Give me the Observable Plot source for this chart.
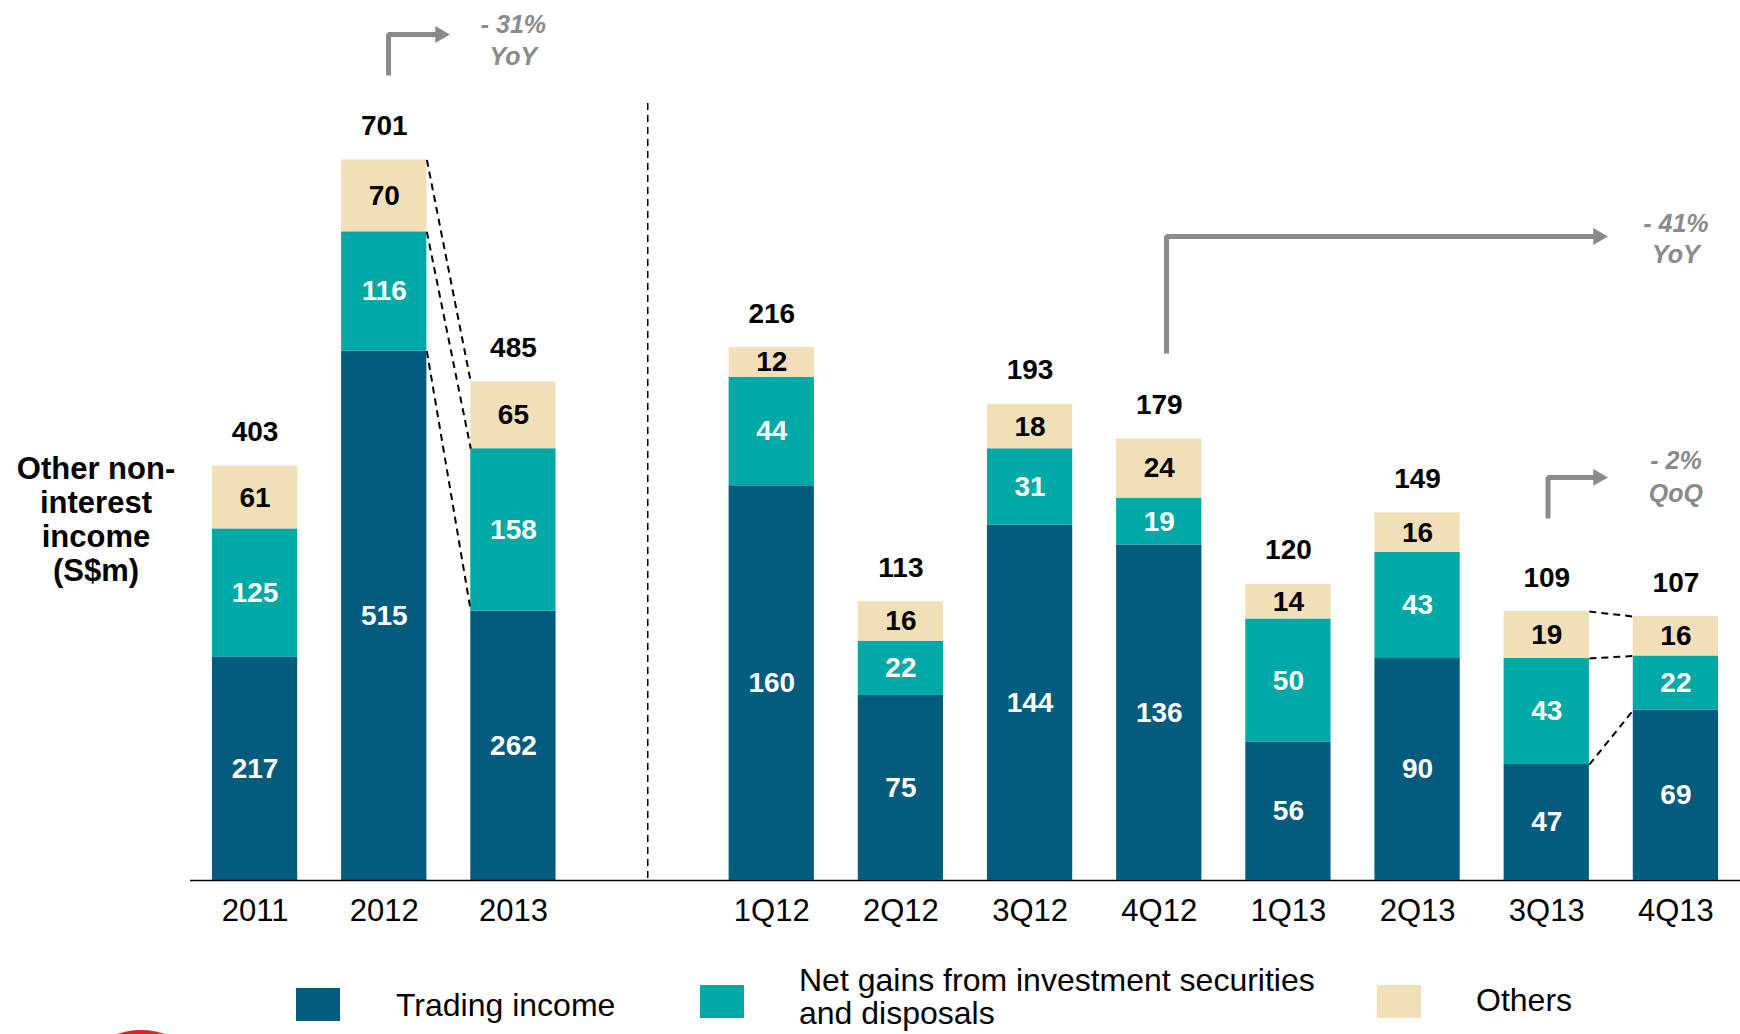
<!DOCTYPE html>
<html><head><meta charset="utf-8">
<script src="https://cdn.jsdelivr.net/npm/d3@7"></script>
<script src="https://cdn.jsdelivr.net/npm/@observablehq/plot@0.6"></script>
<style>
html,body{margin:0;padding:0;background:#fff;}
body{width:1740px;height:1034px;position:relative;overflow:hidden;font-family:"Liberation Sans",Arial,sans-serif;color:#000;}
#chart{position:absolute;left:0;top:0;width:1740px;height:945px;}
#chart svg{position:absolute;left:0;top:0;}
.ylab{position:absolute;left:0;width:192px;top:452px;text-align:center;font-weight:bold;font-size:31px;line-height:34px;}
.sw{position:absolute;width:44px;height:33px;}
.lt{position:absolute;font-size:32px;line-height:33px;}
.logo{position:absolute;left:66px;top:1030px;width:150px;height:150px;border-radius:50%;background:#E2231A;}
</style></head><body>
<div id="chart"></div>
<div class="ylab">Other non-<br>interest<br>income<br>(S$m)</div>
<div id="legend"></div>
<div class="logo"></div>
<script>
// ---- data ----
const annualLabels = ["2011", "2012", "2013"];
const annualTrading = [217, 515, 262];
const annualNetGains = [125, 116, 158];
const annualOthers = [61, 70, 65];
const annualTotals = [403, 701, 485];

const quarterLabels = ["1Q12", "2Q12", "3Q12", "4Q12", "1Q13", "2Q13", "3Q13", "4Q13"];
const quarterTrading = [160, 75, 144, 136, 56, 90, 47, 69];
const quarterNetGains = [44, 22, 31, 19, 50, 43, 43, 22];
const quarterOthers = [12, 16, 18, 24, 14, 16, 19, 16];
const quarterTotals = [216, 113, 193, 179, 120, 149, 109, 107];

const seriesNames = ["Trading income", "Net gains from investment securities and disposals", "Others"];
const seriesColors = ["#035B7E", "#00A9A5", "#F0DFB7"];

// annotation texts
const annualChange = ["- 31%", "YoY"];
const yoyChange = ["- 41%", "YoY"];
const qoqChange = ["- 2%", "QoQ"];

// ---- layout ----
const W = 1740, H = 945, MB = 65, ML = 190;
const HW = 0.33;            // half bar width in slot units
const quarterOffset = 4;    // slot of first quarter (slot 3 is the divider gap)
const tickLabels = [...annualLabels, "", ...quarterLabels];
const FONT = '"Liberation Sans", Arial, sans-serif';
const GREY = "#8A8A8A";

function buildRows(labels, arrays, offset) {
  const rows = [];
  labels.forEach((lab, j) => {
    let acc = 0;
    arrays.forEach((arr, k) => {
      rows.push({slot: j + offset, label: lab, k, series: seriesNames[k], value: arr[j], y1: acc, y2: acc + arr[j]});
      acc += arr[j];
    });
  });
  return rows;
}
const annualRows = buildRows(annualLabels, [annualTrading, annualNetGains, annualOthers], 0);
const quarterRows = buildRows(quarterLabels, [quarterTrading, quarterNetGains, quarterOthers], quarterOffset);
const annualTot = annualLabels.map((l, j) => ({slot: j, total: annualTotals[j]}));
const quarterTot = quarterLabels.map((l, j) => ({slot: j + quarterOffset, total: quarterTotals[j]}));

function connectors(rows, a, b) {
  const A = rows.filter(d => d.slot === a), B = rows.filter(d => d.slot === b);
  return A.map((d, k) => ({x1: a + HW, x2: b - HW, y1: d.y2, y2: B[k].y2}));
}

function barMarks(rows, tots) {
  return [
    Plot.rectY(rows, {x1: d => d.slot - HW, x2: d => d.slot + HW, y1: "y1", y2: "y2", fill: "series"}),
    Plot.text(rows.filter(d => d.k < 2), {x: "slot", y: d => (d.y1 + d.y2) / 2, text: d => String(d.value), fill: "white", fontWeight: "bold", fontSize: 28}),
    Plot.text(rows.filter(d => d.k === 2), {x: "slot", y: d => (d.y1 + d.y2) / 2, text: d => String(d.value), fill: "black", fontWeight: "bold", fontSize: 28}),
    Plot.text(tots, {x: "slot", y: "total", text: d => String(d.total), dy: -25, lineAnchor: "bottom", fill: "black", fontWeight: "bold", fontSize: 28})
  ];
}

function arrowMarks(path, head, notes) {
  return [
    Plot.line(path, {x: "x", y: "y", stroke: GREY, strokeWidth: 5, strokeLinejoin: "miter", strokeLinecap: "butt"}),
    Plot.dot([head], {x: "x", y: "y", symbol: "triangle", rotate: 90, r: 6.3, fill: GREY, stroke: "none"}),
    Plot.text(notes, {x: "x", y: "y", text: "text", fill: GREY, fontWeight: "bold", fontStyle: "italic", fontSize: 25, lineAnchor: "bottom"})
  ];
}

const common = {
  width: W, height: H, marginLeft: ML, marginRight: 0, marginTop: 0, marginBottom: MB,
  x: {domain: [-0.5, 11.5], axis: null},
  color: {domain: seriesNames, range: seriesColors}
};

// ---- annual plot ----
const plotA = Plot.plot({
  ...common,
  style: {fontFamily: FONT, fontSize: "31px", background: "white", color: "black"},
  y: {domain: [0, 856], axis: null},
  marks: [
    ...barMarks(annualRows, annualTot),
    Plot.link(connectors(annualRows, 1, 2), {x1: "x1", y1: "y1", x2: "x2", y2: "y2", stroke: "black", strokeWidth: 2, strokeDasharray: "7,5"}),
    Plot.ruleX([3.04], {stroke: "black", strokeWidth: 1.5, strokeDasharray: "7,5", insetTop: 103, insetBottom: -3}),
    Plot.ruleY([0], {stroke: "black", strokeWidth: 1.5}),
    Plot.axisX({ticks: tickLabels.map((t, i) => i).filter(i => tickLabels[i] !== ""), tickFormat: i => tickLabels[i], tickSize: 0, tickPadding: 18, fontSize: 31, fill: "black"}),
    ...arrowMarks(
      [{x: 1.033, y: 783}, {x: 1.033, y: 823}, {x: 1.433, y: 823}],
      {x: 1.433, y: 823},
      [{x: 2, y: 824, text: annualChange[0]}, {x: 2, y: 793, text: annualChange[1]}]
    )
  ]
});

// ---- quarterly plot ----
const plotB = Plot.plot({
  ...common,
  style: {fontFamily: FONT, fontSize: "28px", background: "transparent", color: "black"},
  y: {domain: [0, 356.7], axis: null},
  marks: [
    ...barMarks(quarterRows, quarterTot),
    Plot.link(connectors(quarterRows, 10, 11), {x1: "x1", y1: "y1", x2: "x2", y2: "y2", stroke: "black", strokeWidth: 2, strokeDasharray: "7,5"}),
    ...arrowMarks(
      [{x: 7.056, y: 213.6}, {x: 7.056, y: 261}, {x: 10.398, y: 261}],
      {x: 10.398, y: 261},
      [{x: 11, y: 263, text: yoyChange[0]}, {x: 11, y: 250.5, text: yoyChange[1]}]
    ),
    ...arrowMarks(
      [{x: 10.01, y: 146.7}, {x: 10.01, y: 163.4}, {x: 10.398, y: 163.4}],
      {x: 10.398, y: 163.4},
      [{x: 11, y: 166.6, text: qoqChange[0]}, {x: 11, y: 153.6, text: qoqChange[1]}]
    )
  ]
});

const chart = document.getElementById("chart");
chart.appendChild(plotA);
chart.appendChild(plotB);

// ---- legend ----
const legendPos = [
  {sw: [296, 988], tx: [396, 989], width: null},
  {sw: [700, 985], tx: [799, 964], width: 530},
  {sw: [1377, 985], tx: [1476, 984], width: null}
];
const legend = document.getElementById("legend");
seriesNames.forEach((name, k) => {
  const p = legendPos[k];
  const s = document.createElement("div");
  s.className = "sw";
  s.style.left = p.sw[0] + "px"; s.style.top = p.sw[1] + "px"; s.style.background = seriesColors[k];
  legend.appendChild(s);
  const t = document.createElement("div");
  t.className = "lt";
  t.style.left = p.tx[0] + "px"; t.style.top = p.tx[1] + "px";
  if (p.width) t.style.width = p.width + "px"; else t.style.whiteSpace = "nowrap";
  t.textContent = name;
  legend.appendChild(t);
});
</script>
</body></html>
